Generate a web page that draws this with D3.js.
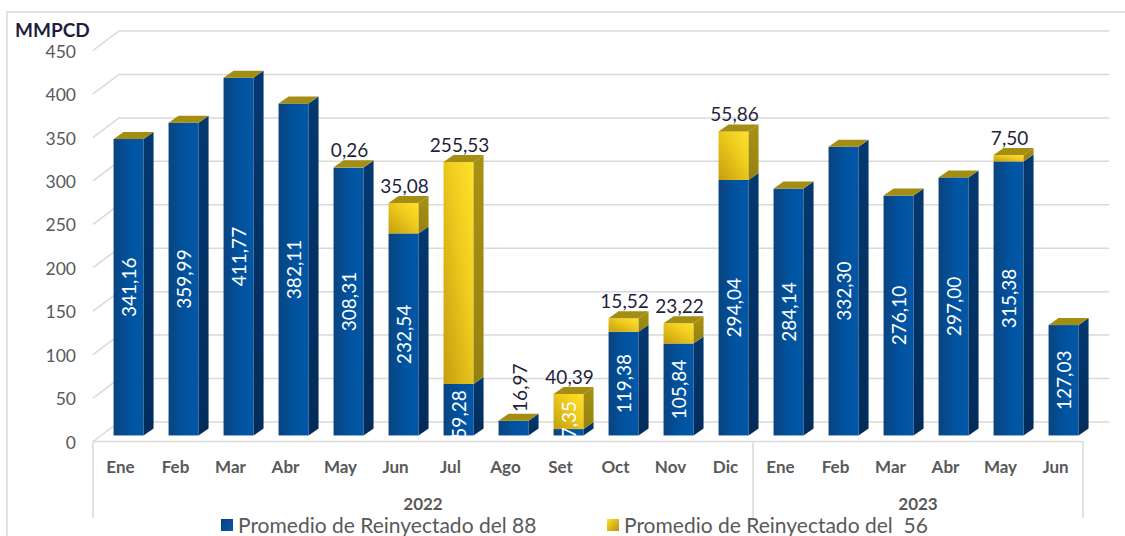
<!DOCTYPE html>
<html>
<head>
<meta charset="utf-8">
<script src="https://cdn.jsdelivr.net/npm/d3@7"></script>
<style>
  body { margin: 0; background: #fff; }
  svg { display: block; font-family: Lato, "Noto Sans", sans-serif; }
</style>
</head>
<body>
<div id="chart"></div>
<script>
// data
const months = ["Ene", "Feb", "Mar", "Abr", "May", "Jun", "Jul", "Ago", "Set", "Oct", "Nov", "Dic",
                "Ene", "Feb", "Mar", "Abr", "May", "Jun"];
const yearLabels = ["2022", "2023"];
const yearSpans = [12, 6];
const reinyectado88 = [341.16, 359.99, 411.77, 382.11, 308.31, 232.54, 59.28, 16.97, 7.35, 119.38, 105.84, 294.04,
                       284.14, 332.30, 276.10, 297.00, 315.38, 127.03];
const reinyectado56 = [0, 0, 0, 0, 0.26, 35.08, 255.53, 0, 40.39, 15.52, 23.22, 55.86,
                       0, 0, 0, 0, 7.50, 0];
const seriesNames = ["Promedio de Reinyectado del 88", "Promedio de Reinyectado del  56"];
const yUnit = "MMPCD";

const W = 1125, H = 536;
const DX = 26, DY = -19.5;          // wall depth
const ZF = 0.31;                    // bar front plane
const BDX = 10, BDY = -7;           // bar depth
const BW = 30;                      // bar front width
const grid = "#d9d9d9";
const dark = "#1f1f3d";

const fmt = d3.formatLocale({decimal: ",", thousands: ".", grouping: [3], currency: ["", ""]}).format(".2f");

const svg = d3.select("#chart").append("svg").attr("width", W).attr("height", H);
const defs = svg.append("defs");

function lin(id, x1, y1, x2, y2, stops) {
  const g = defs.append("linearGradient").attr("id", id)
    .attr("x1", x1).attr("y1", y1).attr("x2", x2).attr("y2", y2);
  stops.forEach(s => g.append("stop").attr("offset", s[0]).attr("stop-color", s[1]));
}
lin("blueFront", 0, 0, 1, 0, [[0, "#0b437f"], [0.55, "#0053a0"], [1, "#0457a6"]]);
lin("blueSide", 0, 0, 0, 1, [[0, "#04386f"], [1, "#022c5a"]]);
lin("yelFront", 0, 1, 1, 0, [[0, "#c49d0e"], [0.6, "#f0cc1e"], [1, "#ffe22c"]]);
lin("yelSide", 0, 0, 0, 1, [[0, "#a89212"], [1, "#958110"]]);
lin("legBlue", 0, 0, 1, 1, [[0, "#0a3f7a"], [1, "#0a58a8"]]);
lin("legYel", 0, 0, 1, 1, [[0, "#ffe02a"], [1, "#b8940c"]]);

const x = d3.scaleBand().domain(d3.range(months.length)).range([93, 1083]);
const y = d3.scaleLinear().domain([0, 450]).range([441.5, 50.5]);

// outer chart border
svg.append("path").attr("d", "M7,536 V12 H1125").attr("fill", "none")
  .attr("stroke", grid).attr("stroke-width", 1.5);

// gridlines: left wall stub + back wall
const ticks = y.ticks(9);
const gl = svg.append("g").attr("stroke", grid).attr("stroke-width", 1.5).attr("fill", "none");
ticks.forEach(t => {
  const x0 = x.range()[0], x1 = x.range()[1];
  gl.append("path").attr("d", `M${x0},${y(t)} L${x0 + DX},${y(t) + DY} H${x1 + DX}`);
});
// floor front edge
gl.append("line").attr("x1", x.range()[0]).attr("x2", x.range()[1]).attr("y1", y(0)).attr("y2", y(0));

// y tick labels
svg.append("g").selectAll("text").data(ticks).join("text")
  .attr("x", 76).attr("y", d => y(d) + 1).attr("dy", "0.35em")
  .attr("text-anchor", "end").attr("font-size", 17.5).attr("fill", "#595959")
  .text(d => d);

svg.append("text").attr("x", 15).attr("y", 37).attr("font-size", 19).attr("font-weight", 700)
  .attr("fill", dark).text(yUnit);

// bars
const ofx = DX * ZF, ofy = DY * ZF;
const bars = svg.append("g");
function yF(v) { return y(v) + ofy; }
function cxOf(i) { return x(i) + x.bandwidth() / 2 + ofx; }

months.forEach((m, i) => {
  const b = reinyectado88[i], yv = reinyectado56[i], tot = b + yv;
  const xl = cxOf(i) - BW / 2, xr = xl + BW;
  const g = bars.append("g");
  const segs = [[0, b, "blue"], [b, tot, "yel"]];
  segs.forEach(([v0, v1, c]) => {
    if (v1 - v0 <= 0) return;
    g.append("rect").attr("x", xl).attr("y", yF(v1)).attr("width", BW).attr("height", yF(v0) - yF(v1))
      .attr("fill", `url(#${c}Front)`);
    g.append("path")
      .attr("d", `M${xr},${yF(v1)} L${xr + BDX},${yF(v1) + BDY} L${xr + BDX},${yF(v0) + BDY} L${xr},${yF(v0)} Z`)
      .attr("fill", `url(#${c}Side)`);
  });
  g.append("path")
    .attr("d", `M${xl},${yF(tot)} L${xl + BDX},${yF(tot) + BDY} L${xr + BDX},${yF(tot) + BDY} L${xr},${yF(tot)} Z`)
    .attr("fill", "#a48d13");
});

// value labels: blue series rotated, yellow series on top
const labs = svg.append("g").attr("font-size", 19);
months.forEach((m, i) => {
  const b = reinyectado88[i], yv = reinyectado56[i], tot = b + yv;
  const cx = cxOf(i) + 1;
  const approxL = fmt(b).length * 10.4;
  const segH = yF(0) - yF(b);
  let cy = (yF(0) + yF(b)) / 2, col = "#fff", lx = cx;
  if (segH < approxL + 6) {
    if (yv === 0) { cy = yF(b) - 7 - approxL / 2; col = dark; lx = cx + 6; }
    else cy = yF(0) - approxL / 2 + 5;
  }
  labs.append("g").attr("transform", "translate(" + lx + "," + cy + ")")
    .append("text").attr("transform", "rotate(-90)")
    .attr("text-anchor", "middle").attr("dy", "0.35em").attr("fill", col).text(fmt(b));
  if (yv > 0) {
    labs.append("text").attr("x", cx).attr("y", yF(tot) - 10)
      .attr("text-anchor", "middle").attr("fill", dark).text(fmt(yv));
  }
});

// category axis
const ax = svg.append("g");
ax.selectAll("text.m").data(months).join("text").attr("class", "m")
  .attr("x", (d, i) => x(i) + x.bandwidth() / 2).attr("y", 473)
  .attr("text-anchor", "middle").attr("font-size", 17).attr("font-weight", 700).attr("fill", "#595959")
  .text(d => d);
let start = 0;
const divs = [x.range()[0]];
yearLabels.forEach((yl, k) => {
  const a = x(start), e = x(start + yearSpans[k] - 1) + x.bandwidth();
  ax.append("text").attr("x", (a + e) / 2).attr("y", 510).attr("text-anchor", "middle")
    .attr("font-size", 17).attr("font-weight", 700).attr("fill", "#595959").text(yl);
  divs.push(e);
  start += yearSpans[k];
});
ax.selectAll("line").data(divs).join("line")
  .attr("x1", d => d).attr("x2", d => d).attr("y1", y(0)).attr("y2", 518)
  .attr("stroke", grid).attr("stroke-width", 1.5);

// legend
const leg = svg.append("g").attr("font-size", 21).attr("fill", "#595959");
[[221, "legBlue"], [607, "legYel"]].forEach(([lx, f], k) => {
  leg.append("rect").attr("x", lx).attr("y", 519).attr("width", 12).attr("height", 12).attr("fill", `url(#${f})`);
  leg.append("text").attr("x", lx + 17).attr("y", 533).style("white-space", "pre").text(seriesNames[k]);
});
</script>
</body>
</html>
